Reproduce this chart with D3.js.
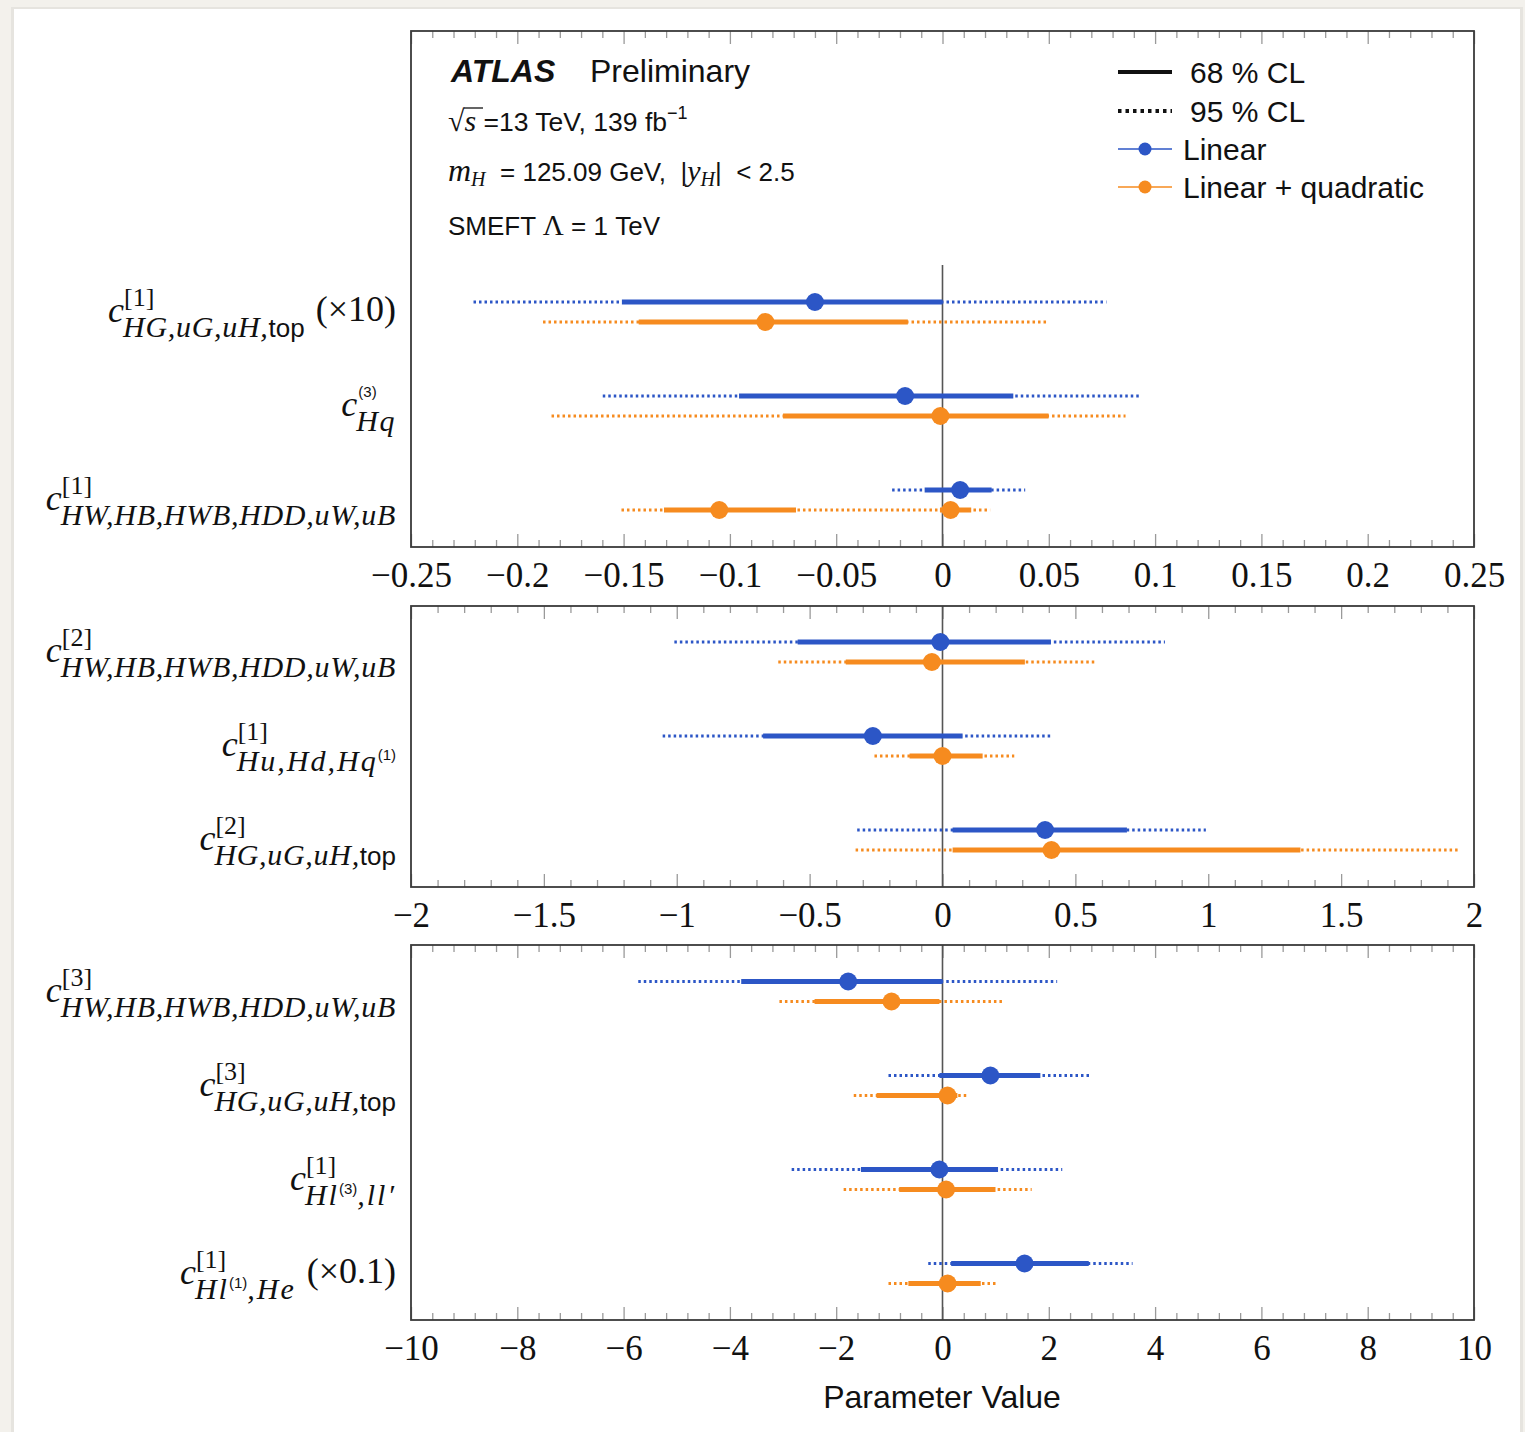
<!DOCTYPE html>
<html><head><meta charset="utf-8">
<script src="https://cdn.jsdelivr.net/npm/d3@7"></script>
<style>
body{margin:0;background:#f3f1ec;}
svg{display:block}
</style></head><body>
<svg id="chart" width="1525" height="1432"></svg>
<script>
// ---------------- DATA ----------------
const params = ["hg1","hq3","hw1","hw2","hu1","hg2","hw3","hg3","hl3","hl1"];
const panelOf = [0,0,0,1,1,1,2,2,2,2];
const panelDomains = [[-0.25,0.25],[-2,2],[-10,10]];
const tickValues = [
  [-0.25,-0.2,-0.15,-0.1,-0.05,0,0.05,0.1,0.15,0.2,0.25],
  [-2,-1.5,-1,-0.5,0,0.5,1,1.5,2],
  [-10,-8,-6,-4,-2,0,2,4,6,8,10]
];
const tickLabels = [
  ["−0.25","−0.2","−0.15","−0.1","−0.05","0","0.05","0.1","0.15","0.2","0.25"],
  ["−2","−1.5","−1","−0.5","0","0.5","1","1.5","2"],
  ["−10","−8","−6","−4","−2","0","2","4","6","8","10"]
];
// labels
const labelSup = ["[1]","(3)","[1]","[2]","[1]","[2]","[3]","[3]","[1]","[1]"];
const labelSub = [
  [["HG,uG,uH,","i",0.7],["top","s",0]],
  [["Hq","i",1.5]],
  [["HW,HB,HWB,HDD,uW,uB","i",0.7]],
  [["HW,HB,HWB,HDD,uW,uB","i",0.7]],
  [["Hu,Hd,Hq","i",2],["(1)","ss",0]],
  [["HG,uG,uH,","i",0.7],["top","s",0]],
  [["HW,HB,HWB,HDD,uW,uB","i",0.7]],
  [["HG,uG,uH,","i",0.7],["top","s",0]],
  [["Hl","i",2],["(3)","ss",0],[",ll′","i",2]],
  [["Hl","i",2],["(1)","ss",0],[",He","i",2]]
];
const labelScale = ["(×10)","","","","","","","","","(×0.1)"];
// Linear fit
const linBest = [-0.060, -0.0176, 0.0083, -0.008, -0.262, 0.386, -1.774, 0.901, -0.058, 1.544];
const lin68Lo = [-0.1508, -0.0957, -0.0084, -0.545, -0.675, 0.038, -3.787, -0.058, -1.534, 0.163];
const lin68Hi = [0.0, 0.0333, 0.0231, 0.408, 0.0756, 0.694, 0.0, 1.841, 1.045, 2.752];
const lin95Lo = [-0.2206, -0.1598, -0.0237, -1.009, -1.053, -0.321, -5.724, -1.016, -2.838, -0.268];
const lin95Hi = [0.0771, 0.0933, 0.0389, 0.837, 0.416, 0.991, 2.157, 2.809, 2.253, 3.576];
// Linear + quadratic fit (may have two minima / two 68% intervals)
const quadBest = [[-0.0833],[-0.001],[-0.105,0.0038],[-0.040],[0.0],[0.410],[-0.959],[0.094],[0.067],[0.096]];
const quad68 = [
  [[-0.1429,-0.0163]],
  [[-0.075,0.0499]],
  [[-0.131,-0.0689],[-0.0012,0.0135]],
  [[-0.364,0.310]],
  [[-0.124,0.151]],
  [[0.038,1.347]],
  [[-2.407,-0.058]],
  [[-1.24,0.28]],
  [[-0.815,0.997]],
  [[-0.642,0.719]]
];
const quad95Lo = [-0.1879,-0.1839,-0.1510,-0.618,-0.256,-0.327,-3.068,-1.67,-1.860,-1.016];
const quad95Hi = [0.0494,0.0861,0.0224,0.575,0.27,1.946,1.122,0.47,1.678,1.007];

// ---------------- STYLE / LAYOUT ----------------
const W=1525,H=1432;
const BLUE="#2c56c6", ORANGE="#f68b1f";
const SERIF="'Liberation Serif','Times New Roman',serif";
const SANS="'Liberation Sans',Arial,Helvetica,sans-serif";
const X0=411, X1=1474;
const panels=[
  {top:31,bottom:547,r0:312,r1:500,zeroTop:265},
  {top:606,bottom:887,r0:652,r1:840,zeroTop:606},
  {top:945,bottom:1320,r0:991.5,r1:1273.5,zeroTop:945}
];
const svg=d3.select("#chart");
svg.append("rect").attr("width",W).attr("height",H).attr("fill","#f3f1ec");
svg.append("rect").attr("x",11).attr("y",7).attr("width",1512).attr("height",1440).attr("fill","#e6e4df");
svg.append("rect").attr("x",14).attr("y",9).attr("width",1506).attr("height",1440).attr("fill","#fff");

panels.forEach((p,i)=>{
  const x=d3.scaleLinear().domain(panelDomains[i]).range([X0,X1]);
  const rows=params.filter((_,k)=>panelOf[k]===i);
  const y=d3.scalePoint().domain(rows).range([p.r0,p.r1]);
  const g=svg.append("g");
  const major=tickValues[i];
  const step=(major[1]-major[0])/5;
  const minor=d3.range(0,Math.round((panelDomains[i][1]-panelDomains[i][0])/step)+1)
      .map(n=>panelDomains[i][0]+n*step).filter((v,n)=>n%5!==0);
  const styleAxis=sel=>{sel.select(".domain").remove();sel.selectAll(".tick line").attr("stroke","#9a9a9a").attr("stroke-width",1.3);};
  g.append("g").attr("transform",`translate(0,${p.bottom})`)
    .call(d3.axisBottom(x).tickValues(minor).tickSize(-7).tickFormat("")).call(styleAxis);
  g.append("g").attr("transform",`translate(0,${p.top})`)
    .call(d3.axisTop(x).tickValues(minor).tickSize(-7).tickFormat("")).call(styleAxis);
  g.append("g").attr("transform",`translate(0,${p.top})`)
    .call(d3.axisTop(x).tickValues(major).tickSize(-13).tickFormat("")).call(styleAxis);
  const ax=g.append("g").attr("transform",`translate(0,${p.bottom})`)
    .call(d3.axisBottom(x).tickValues(major).tickSize(-13).tickFormat((d,j)=>tickLabels[i][j])).call(styleAxis);
  ax.selectAll(".tick text").attr("y",40).attr("dy",null)
    .style("font-family",SERIF).style("font-size","35px").attr("fill","#111");
  // zero line
  g.append("line").attr("x1",x(0)).attr("x2",x(0)).attr("y1",p.zeroTop).attr("y2",p.bottom)
    .attr("stroke","#555").attr("stroke-width",1.6);
  // frame
  g.append("rect").attr("x",X0).attr("y",p.top).attr("width",X1-X0).attr("height",p.bottom-p.top)
    .attr("fill","none").attr("stroke","#3a3a3a").attr("stroke-width",1.8);

  rows.forEach(name=>{
    const k=params.indexOf(name);
    const yc=y(name), yb=yc-10, yo=yc+10;
    // linear
    g.append("line").attr("x1",x(lin95Lo[k])).attr("x2",x(lin95Hi[k])).attr("y1",yb).attr("y2",yb)
      .attr("stroke",BLUE).attr("stroke-width",2.8).attr("stroke-dasharray","2.5,3");
    g.append("line").attr("x1",x(lin68Lo[k])).attr("x2",x(lin68Hi[k])).attr("y1",yb).attr("y2",yb)
      .attr("stroke",BLUE).attr("stroke-width",5);
    g.append("circle").attr("cx",x(linBest[k])).attr("cy",yb).attr("r",9).attr("fill",BLUE);
    // quadratic
    g.append("line").attr("x1",x(quad95Lo[k])).attr("x2",x(quad95Hi[k])).attr("y1",yo).attr("y2",yo)
      .attr("stroke",ORANGE).attr("stroke-width",2.8).attr("stroke-dasharray","2.5,3");
    quad68[k].forEach(iv=>{
      g.append("line").attr("x1",x(iv[0])).attr("x2",x(iv[1])).attr("y1",yo).attr("y2",yo)
        .attr("stroke",ORANGE).attr("stroke-width",5);
    });
    quadBest[k].forEach(v=>{
      g.append("circle").attr("cx",x(v)).attr("cy",yo).attr("r",9).attr("fill",ORANGE);
    });
    drawLabel(k,yc);
  });
});

function drawLabel(k,yc){
  const g=svg.append("g");
  let right=396;
  if(labelScale[k]){
    const t=g.append("text").attr("x",right).attr("y",yc+9).attr("text-anchor","end")
      .style("font-family",SERIF).style("font-size","36px").attr("fill","#111").text(labelScale[k]);
    right-=t.node().getComputedTextLength()+11;
  }
  const sub=g.append("text").attr("x",right).attr("y",yc+25).attr("text-anchor","end").attr("fill","#111");
  labelSub[k].forEach(([txt,f,ls],j,arr)=>{
    const ts=sub.append("tspan").text(txt).style("letter-spacing",ls+"px");
    if(f==="i") ts.style("font-family",SERIF).style("font-style","italic").style("font-size","30px");
    else if(f==="s") ts.style("font-family",SANS).style("font-size","26px");
    else if(f==="ss") ts.style("font-family",SANS).style("font-size","15px").attr("dy",-11);
    if(j>0&&arr[j-1][1]==="ss") ts.attr("dy",11);
  });
  const left=right-sub.node().getComputedTextLength();
  g.append("text").attr("x",left+1).attr("y",yc+10).attr("text-anchor","end")
    .style("font-family",SERIF).style("font-style","italic").style("font-size","36px").attr("fill","#111").text("c");
  const sup=labelSup[k];
  if(sup.startsWith("(")){
    g.append("text").attr("x",left+2).attr("y",yc-9)
      .style("font-family",SANS).style("font-size","15px").attr("fill","#111").text(sup);
  } else {
    g.append("text").attr("x",left+1).attr("y",yc-6)
      .style("font-family",SERIF).style("font-size","26px").attr("fill","#111").text(sup);
  }
}

// ---------------- HEADER TEXT ----------------
const hdr=svg.append("g").attr("fill","#111");
hdr.append("text").attr("x",451).attr("y",82).style("font-family",SANS).style("font-size","32px")
  .style("font-weight","bold").style("font-style","italic").text("ATLAS");
hdr.append("text").attr("x",590).attr("y",82).style("font-family",SANS).style("font-size","32px").text("Preliminary");
const l2=hdr.append("text").attr("x",448).attr("y",131);
l2.append("tspan").style("font-family",SERIF).style("font-size","30px").text("√");
l2.append("tspan").style("font-family",SERIF).style("font-style","italic").style("font-size","30px").text("s");
l2.append("tspan").style("font-family",SANS).style("font-size","26.5px").text(" =13 TeV, 139 fb");
l2.append("tspan").style("font-family",SANS).style("font-size","18px").attr("dy",-12).text("−1");
hdr.append("line").attr("x1",464).attr("x2",483).attr("y1",108).attr("y2",108).attr("stroke","#111").attr("stroke-width",1.3);
const l3=hdr.append("text").attr("x",448).attr("y",181).style("white-space","pre");
l3.append("tspan").style("font-family",SERIF).style("font-style","italic").style("font-size","32px").text("m");
l3.append("tspan").style("font-family",SERIF).style("font-style","italic").style("font-size","20px").attr("dy",5).text("H");
l3.append("tspan").style("font-family",SANS).style("font-size","26px").attr("dy",-5).text("  = 125.09 GeV,  |");
l3.append("tspan").style("font-family",SERIF).style("font-style","italic").style("font-size","30px").text("y");
l3.append("tspan").style("font-family",SERIF).style("font-style","italic").style("font-size","20px").attr("dy",5).text("H");
l3.append("tspan").style("font-family",SANS).style("font-size","26px").attr("dy",-5).text("|  < 2.5");
const l4=hdr.append("text").attr("x",448).attr("y",235);
l4.append("tspan").style("font-family",SANS).style("font-size","26px").text("SMEFT ");
l4.append("tspan").style("font-family",SERIF).style("font-size","29px").text("Λ");
l4.append("tspan").style("font-family",SANS).style("font-size","26px").text(" = 1 TeV");

// ---------------- LEGEND ----------------
const lg=svg.append("g");
const lx0=1118,lx1=1172;
lg.append("line").attr("x1",lx0).attr("x2",lx1).attr("y1",72).attr("y2",72).attr("stroke","#111").attr("stroke-width",4);
lg.append("line").attr("x1",lx0).attr("x2",lx1).attr("y1",111).attr("y2",111).attr("stroke","#111").attr("stroke-width",4).attr("stroke-dasharray","3.5,4");
lg.append("line").attr("x1",lx0).attr("x2",lx1).attr("y1",149).attr("y2",149).attr("stroke",BLUE).attr("stroke-width",1.3);
lg.append("circle").attr("cx",(lx0+lx1)/2).attr("cy",149).attr("r",6.5).attr("fill",BLUE);
lg.append("line").attr("x1",lx0).attr("x2",lx1).attr("y1",187).attr("y2",187).attr("stroke",ORANGE).attr("stroke-width",1.3);
lg.append("circle").attr("cx",(lx0+lx1)/2).attr("cy",187).attr("r",6.5).attr("fill",ORANGE);
[["68 % CL",1190,83],["95 % CL",1190,122],["Linear",1183,160],["Linear + quadratic",1183,198]].forEach(([t,x,y])=>{
  lg.append("text").attr("x",x).attr("y",y).style("font-family",SANS).style("font-size","30px").attr("fill","#111").text(t);
});

// axis title
svg.append("text").attr("x",942).attr("y",1408).attr("text-anchor","middle")
  .style("font-family",SANS).style("font-size","32px").attr("fill","#111").text("Parameter Value");
</script>
</body></html>
